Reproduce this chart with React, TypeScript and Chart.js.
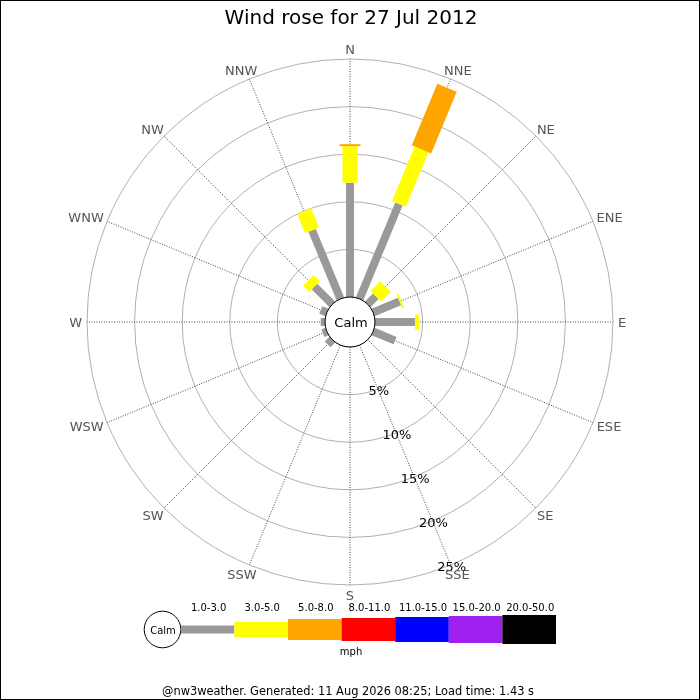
import React, { useEffect, useRef } from 'react';
import Chart from 'chart.js/auto';

// compass points, clockwise from north
const directions = ['N', 'NNE', 'NE', 'ENE', 'E', 'ESE', 'SE', 'SSE', 'S', 'SSW', 'SW', 'WSW', 'W', 'WNW', 'NW', 'NNW'];

// frequency (%) per speed band and direction
const speed1to3 = [12.0, 10.8, 1.2, 3.0, 4.2, 2.5, 0, 0, 0, 0, 0.7, 0.45, 0.45, 0.7, 2.65, 7.8];
const speed3to5 = [3.85, 6.2, 1.45, 0.2, 0.45, 0, 0, 0, 0, 0, 0, 0, 0, 0, 0.9, 2.2];
const speed5to8 = [0.2, 7.0, 0, 0, 0, 0, 0, 0, 0, 0, 0, 0, 0, 0, 0, 0];
const speed8to11 = [0, 0, 0, 0, 0, 0, 0, 0, 0, 0, 0, 0, 0, 0, 0, 0];
const speed11to15 = [0, 0, 0, 0, 0, 0, 0, 0, 0, 0, 0, 0, 0, 0, 0, 0];
const speed15to20 = [0, 0, 0, 0, 0, 0, 0, 0, 0, 0, 0, 0, 0, 0, 0, 0];
const speed20to50 = [0, 0, 0, 0, 0, 0, 0, 0, 0, 0, 0, 0, 0, 0, 0, 0];

const bandLabels = ['1.0-3.0', '3.0-5.0', '5.0-8.0', '8.0-11.0', '11.0-15.0', '15.0-20.0', '20.0-50.0'];
const bandColors = ['#999999', '#ffff00', '#ffa500', '#ff0000', '#0000ff', '#a020f0', '#000000'];
const bandWidths = [8, 15, 21, 23, 25, 27, 29];

const ringTicks = [5, 10, 15, 20, 25];

const FONT = "'DejaVu Sans', sans-serif";

const windRosePlugin = {
  id: 'windRose',
  afterDatasetsDraw(chart: any) {
    const ctx: CanvasRenderingContext2D = chart.ctx;
    const scale = chart.scales.r;
    const cx = scale.xCenter;
    const cy = scale.yCenter;
    ctx.save();

    // stacked bars along each direction
    ctx.lineCap = 'butt';
    for (let i = 0; i < directions.length; i++) {
      let base = 0;
      chart.data.datasets.forEach((ds: any, k: number) => {
        const v = ds.data[i];
        if (!v) return;
        const p0 = scale.getPointPositionForValue(i, base);
        const p1 = scale.getPointPositionForValue(i, base + v);
        ctx.strokeStyle = bandColors[k];
        ctx.lineWidth = bandWidths[k];
        ctx.beginPath();
        ctx.moveTo(p0.x, p0.y);
        ctx.lineTo(p1.x, p1.y);
        ctx.stroke();
        base += v;
      });
    }

    // calm circle
    const calmR = scale.getDistanceFromCenterForValue(0);
    ctx.beginPath();
    ctx.arc(cx, cy, calmR, 0, Math.PI * 2);
    ctx.fillStyle = '#fff';
    ctx.fill();
    ctx.lineWidth = 1;
    ctx.strokeStyle = '#000';
    ctx.stroke();
    ctx.fillStyle = '#000';
    ctx.font = `13px ${FONT}`;
    ctx.textAlign = 'center';
    ctx.textBaseline = 'alphabetic';
    ctx.fillText('Calm', cx + 1, cy + 5);

    // ring labels along SSE
    ringTicks.forEach((t) => {
      const p = scale.getPointPositionForValue(7, t);
      ctx.fillText(`${t}%`, p.x + 1, p.y + 6);
    });

    // compass labels
    ctx.fillStyle = '#555';
    ctx.textAlign = 'left';
    const capH = 9.5;
    directions.forEach((d, i) => {
      const a = scale.getIndexAngle(i);
      const p = scale.getPointPosition(i, scale.drawingArea + 5);
      const w = ctx.measureText(d).width;
      const left = p.x - (w * (1 - Math.sin(a))) / 2;
      const top = p.y - (capH * (1 + Math.cos(a))) / 2;
      ctx.fillText(d, left, top + capH);
    });

    // title
    ctx.fillStyle = '#000';
    ctx.textAlign = 'center';
    ctx.font = `20px ${FONT}`;
    ctx.fillText('Wind rose for 27 Jul 2012', 351, 24);

    // speed legend
    const ly = 629.5;
    ctx.beginPath();
    ctx.arc(162.5, ly, 18.3, 0, Math.PI * 2);
    ctx.strokeStyle = '#000';
    ctx.lineWidth = 1;
    ctx.stroke();
    ctx.font = `10px ${FONT}`;
    ctx.fillText('Calm', 163, ly + 4);
    const segW = 53.6;
    let x = 180.8;
    bandLabels.forEach((lab, k) => {
      ctx.fillStyle = bandColors[k];
      ctx.fillRect(x, ly - bandWidths[k] / 2, segW, bandWidths[k]);
      ctx.fillStyle = '#000';
      ctx.fillText(lab, x + segW / 2 + 1, 611);
      x += segW;
    });
    ctx.fillText('mph', 351, 655);

    // footer
    ctx.font = `11.4px ${FONT}`;
    ctx.fillText('@nw3weather. Generated: 11 Aug 2026 08:25; Load time: 1.43 s', 348, 695);

    // frame
    ctx.strokeStyle = '#000';
    ctx.lineWidth = 1;
    ctx.strokeRect(0.5, 0.5, chart.width - 1, chart.height - 1);
    ctx.restore();
  },
};

const App: React.FC = () => {
  const canvasRef = useRef<HTMLCanvasElement>(null);

  useEffect(() => {
    if (!canvasRef.current) return;
    const ctx = canvasRef.current.getContext('2d');
    if (!ctx) return;

    const series = [speed1to3, speed3to5, speed5to8, speed8to11, speed11to15, speed15to20, speed20to50];

    const chart = new Chart(ctx, {
      type: 'radar',
      data: {
        labels: directions,
        datasets: series.map((data, k) => ({
          label: bandLabels[k],
          data,
          fill: false,
          showLine: false,
          borderWidth: 0,
          pointRadius: 0,
          pointHitRadius: 0,
          backgroundColor: 'rgba(0,0,0,0)',
          borderColor: bandColors[k],
        })),
      },
      options: {
        animation: false,
        responsive: true,
        maintainAspectRatio: false,
        layout: { padding: { left: 87, right: 87, top: 59, bottom: 115 } },
        plugins: {
          legend: { display: false },
          tooltip: { enabled: false },
          filler: { propagate: false },
        },
        scales: {
          r: {
            // negative min leaves room for the calm circle in the middle
            min: -625 / 238,
            max: 25,
            startAngle: 0,
            afterBuildTicks: (scale: any) => {
              scale.ticks = [0, ...ringTicks].map((value) => ({ value }));
            },
            ticks: { display: false },
            pointLabels: { display: false },
            grid: {
              circular: true,
              color: '#b0b0b0',
              lineWidth: 1,
            },
            angleLines: {
              display: true,
              color: '#444',
              lineWidth: 1,
              borderDash: [1, 1.5],
            },
          },
        },
      },
      plugins: [windRosePlugin],
    });

    return () => chart.destroy();
  }, []);

  return (
    <div style={{ position: 'absolute', left: 0, top: 0, width: 700, height: 700, background: '#fff' }}>
      <canvas ref={canvasRef} />
    </div>
  );
};

export default App;
